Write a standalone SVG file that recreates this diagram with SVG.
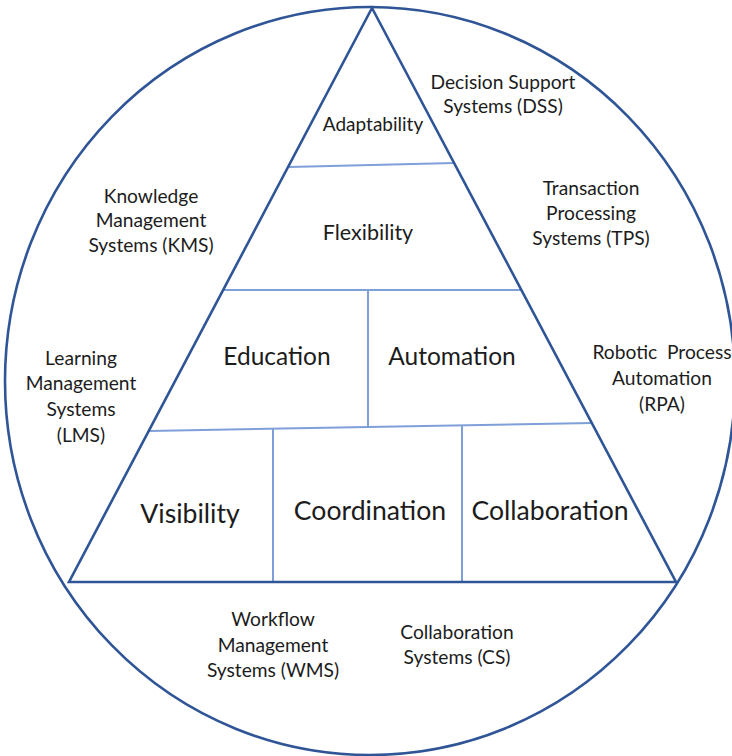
<svg xmlns="http://www.w3.org/2000/svg" width="732" height="756" viewBox="0 0 732 756">
  <style>
    .outline { fill: none; stroke: #2F5597; stroke-width: 2.6; stroke-linejoin: miter; }
    .divider { fill: none; stroke: #7F9FD8; stroke-width: 2; }
    text { font-family: Lato, "Open Sans", sans-serif; fill: #1c1c1c; text-anchor: middle; }
    .sys { font-size: 19.2px; }
    .top { font-size: 19px; }
    .mid { font-size: 21.5px; }
    .lvl2 { font-size: 24.5px; }
    .base { font-size: 26.6px; }
  </style>
  <rect width="732" height="756" fill="#ffffff"/>

  <g id="connectors">
    <!-- outer ring -->
    <ellipse class="outline" cx="370" cy="381" rx="365" ry="374"/>
    <!-- inner dividers of the pyramid -->
    <line class="divider" x1="289" y1="167" x2="454" y2="163"/>
    <line class="divider" x1="223" y1="290" x2="521" y2="290"/>
    <line class="divider" x1="368" y1="290" x2="368" y2="426"/>
    <line class="divider" x1="149" y1="431" x2="592" y2="423"/>
    <line class="divider" x1="273" y1="429" x2="273" y2="582"/>
    <line class="divider" x1="462" y1="426" x2="462" y2="582"/>
    <!-- pyramid -->
    <polygon class="outline" points="372,8 676,582 69,582"/>
  </g>

  <g id="adaptability"><text class="top" x="373" y="131">Adaptability</text></g>
  <g id="flexibility"><text class="mid" x="368" y="240">Flexibility</text></g>
  <g id="education"><text class="lvl2" x="277" y="365">Education</text></g>
  <g id="automation"><text class="lvl2" x="452" y="365">Automation</text></g>
  <g id="visibility"><text class="base" x="190" y="523">Visibility</text></g>
  <g id="coordination"><text class="base" x="370" y="520">Coordination</text></g>
  <g id="collaboration"><text class="base" x="550" y="520">Collaboration</text></g>

  <g id="dss">
    <text class="sys" x="503" y="89">Decision Support</text>
    <text class="sys" x="503" y="113">Systems (DSS)</text>
  </g>
  <g id="kms">
    <text class="sys" x="151" y="203">Knowledge</text>
    <text class="sys" x="151" y="227">Management</text>
    <text class="sys" x="151" y="252">Systems (KMS)</text>
  </g>
  <g id="tps">
    <text class="sys" x="591" y="195">Transaction</text>
    <text class="sys" x="591" y="220">Processing</text>
    <text class="sys" x="591" y="245">Systems (TPS)</text>
  </g>
  <g id="lms">
    <text class="sys" x="81" y="365">Learning</text>
    <text class="sys" x="81" y="390">Management</text>
    <text class="sys" x="81" y="416">Systems</text>
    <text class="sys" x="81" y="442">(LMS)</text>
  </g>
  <g id="rpa">
    <text class="sys" x="662" y="359" xml:space="preserve">Robotic  Process</text>
    <text class="sys" x="662" y="385">Automation</text>
    <text class="sys" x="662" y="411">(RPA)</text>
  </g>
  <g id="wms">
    <text class="sys" x="273" y="626">Workflow</text>
    <text class="sys" x="273" y="652">Management</text>
    <text class="sys" x="273" y="677">Systems (WMS)</text>
  </g>
  <g id="cs">
    <text class="sys" x="457" y="639">Collaboration</text>
    <text class="sys" x="457" y="664">Systems (CS)</text>
  </g>
</svg>
